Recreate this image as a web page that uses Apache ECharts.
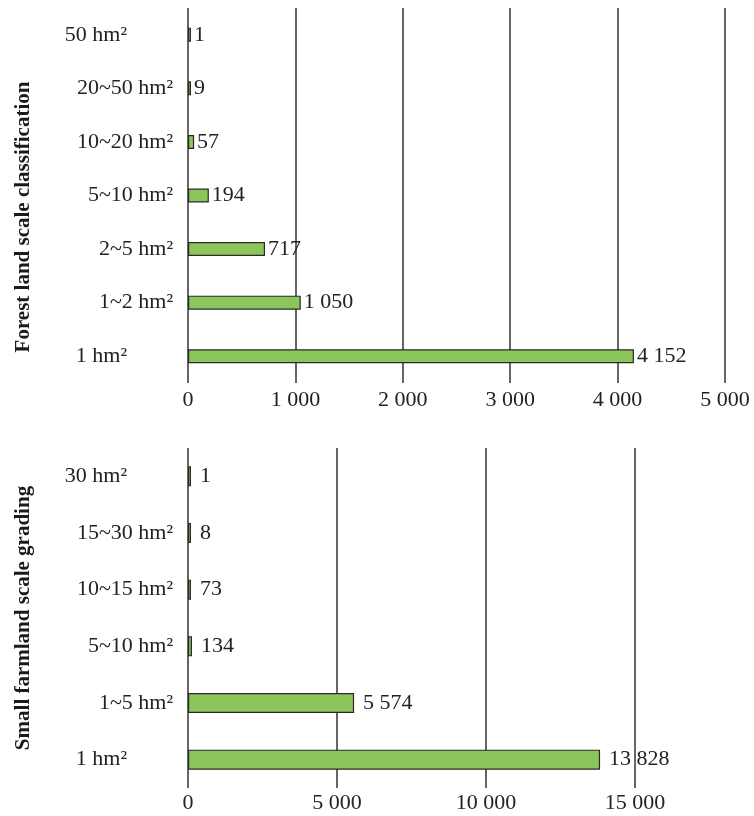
<!DOCTYPE html>
<html>
<head>
<meta charset="utf-8">
<script src="https://cdn.jsdelivr.net/npm/echarts@6/dist/echarts.min.js"></script>
<style>html,body{margin:0;padding:0;background:#fff}#c{width:754px;height:816px}</style>
</head>
<body>
<div id="c"></div>
<script>
// Top chart: forest land
const forestCategories = ['50 hm²', '20~50 hm²', '10~20 hm²', '5~10 hm²', '2~5 hm²', '1~2 hm²', '1 hm²'];
const forestValues = [1, 9, 57, 194, 717, 1050, 4152];
const forestTicks = [0, 1000, 2000, 3000, 4000, 5000];
const forestTitle = 'Forest land scale classification';

// Bottom chart: small farmland
const farmCategories = ['30 hm²', '15~30 hm²', '10~15 hm²', '5~10 hm²', '1~5 hm²', '1 hm²'];
const farmValues = [1, 8, 73, 134, 5574, 13828];
const farmTicks = [0, 5000, 10000, 15000];
const farmTitle = 'Small farmland scale grading';

const FONT = '"Liberation Serif", "Times New Roman", serif';
const TXT = '#222';
const LINE = '#333';
const GREEN = '#8cc55c';
const FS = 22;

function fmt(v) {
  return String(Math.round(v)).replace(/\B(?=(\d{3})+(?!\d))/g, ' ');
}

function catLabel(n) {
  return function (val, idx) {
    const edge = (idx === 0 || idx === n - 1);
    return edge ? '{e|' + val + '}' : '{n|' + val + '}';
  };
}
const catRich = {
  n: { fontFamily: FONT, fontSize: FS, color: TXT },
  e: { fontFamily: FONT, fontSize: FS, color: TXT, padding: [0, 46, 0, 0] }
};

const chart = echarts.init(document.getElementById('c'), null, { renderer: 'canvas' });

function xAxisFor(gridIndex, ticks, margin) {
  return {
    type: 'value', gridIndex: gridIndex,
    min: ticks[0], max: ticks[ticks.length - 1], interval: ticks[1] - ticks[0],
    axisLine: { show: false }, axisTick: { show: false },
    splitLine: { show: true, lineStyle: { color: LINE, width: 1.5 } },
    axisLabel: { formatter: fmt, fontFamily: FONT, fontSize: FS, color: TXT, margin: margin }
  };
}
function yAxisFor(gridIndex, cats) {
  return {
    type: 'category', gridIndex: gridIndex, data: cats, inverse: true,
    axisLine: { show: false }, axisTick: { show: false },
    axisLabel: { formatter: catLabel(cats.length), rich: catRich, margin: 15 }
  };
}
function barSeries(idx, values, width, dist) {
  return {
    type: 'bar', xAxisIndex: idx, yAxisIndex: idx, data: values, barWidth: width,
    barMinHeight: 3,
    itemStyle: { color: GREEN, borderColor: '#2a2a2a', borderWidth: 1.2 },
    label: { show: true, position: 'right', distance: dist, formatter: p => fmt(p.value),
      fontFamily: FONT, fontSize: FS, color: TXT },
    silent: true, animation: false
  };
}

chart.setOption({
  animation: false,
  backgroundColor: '#fff',
  grid: [
    { left: 188, width: 537, top: 8, height: 375 },
    { left: 188, width: 447, top: 448, height: 340 }
  ],
  xAxis: [xAxisFor(0, forestTicks, 6), xAxisFor(1, farmTicks, 4)],
  yAxis: [yAxisFor(0, forestCategories), yAxisFor(1, farmCategories)],
  series: [barSeries(0, forestValues, 14, 3), barSeries(1, farmValues, 20, 9)],
  graphic: [
    { type: 'text', x: 24, y: 217, rotation: Math.PI / 2,
      style: { text: forestTitle, fontFamily: FONT, fontSize: 21, fontWeight: 'bold', fill: '#1a1a1a',
        align: 'center', verticalAlign: 'middle' } },
    { type: 'text', x: 24, y: 618, rotation: Math.PI / 2,
      style: { text: farmTitle, fontFamily: FONT, fontSize: 21, fontWeight: 'bold', fill: '#1a1a1a',
        align: 'center', verticalAlign: 'middle' } }
  ]
});
</script>
</body>
</html>
